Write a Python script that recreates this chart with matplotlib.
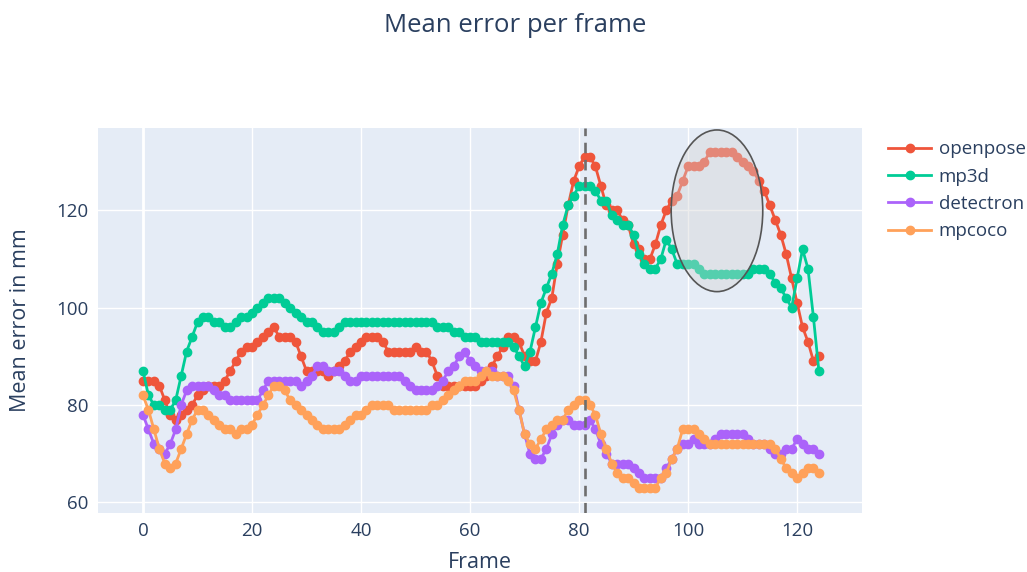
import numpy as np
import matplotlib
matplotlib.use("Agg")
import matplotlib.pyplot as plt
from matplotlib.patches import Ellipse
from matplotlib.lines import Line2D

# ---- data ----
frames = np.arange(125)
openpose = [85, 85, 85, 84, 81, 78, 77, 78, 79, 80,
            82, 83, 84, 84, 84, 85, 87, 89, 91, 92,
            92, 93, 94, 95, 96, 94, 94, 94, 93, 90,
            87, 87, 87, 87, 86, 87, 88, 89, 91, 92,
            93, 94, 94, 94, 93, 91, 91, 91, 91, 91,
            92, 91, 91, 89, 86, 84, 84, 84, 84, 84,
            84, 84, 85, 86, 88, 90, 92, 94, 94, 93,
            90, 89, 89, 93, 99, 102, 109, 115, 121, 126,
            129, 131, 131, 129, 125, 121, 120, 120, 118, 117,
            113, 112, 110, 110, 113, 117, 120, 122, 123, 126,
            129, 129, 129, 130, 132, 132, 132, 132, 132, 131,
            130, 129, 128, 126, 124, 121, 118, 115, 111, 106,
            101, 96, 93, 89, 90]
mp3d = [87, 82, 80, 80, 79, 79, 81, 86, 91, 94,
        97, 98, 98, 97, 97, 96, 96, 97, 98, 98,
        99, 100, 101, 102, 102, 102, 101, 100, 99, 98,
        97, 97, 96, 95, 95, 95, 96, 97, 97, 97,
        97, 97, 97, 97, 97, 97, 97, 97, 97, 97,
        97, 97, 97, 97, 96, 96, 96, 95, 95, 94,
        94, 94, 93, 93, 93, 93, 93, 93, 92, 90,
        88, 91, 96, 101, 104, 107, 111, 117, 121, 123,
        125, 125, 125, 124, 122, 122, 119, 118, 117, 117,
        115, 111, 109, 108, 108, 110, 114, 112, 109, 109,
        109, 109, 108, 107, 107, 107, 107, 107, 107, 107,
        107, 107, 108, 108, 108, 107, 105, 104, 102, 100,
        106, 112, 108, 98, 87]
detectron = [78, 75, 72, 71, 70, 72, 75, 80, 83, 84,
             84, 84, 84, 83, 82, 82, 81, 81, 81, 81,
             81, 81, 83, 85, 85, 85, 85, 85, 85, 84,
             85, 86, 88, 88, 87, 87, 87, 86, 85, 85,
             86, 86, 86, 86, 86, 86, 86, 86, 85, 84,
             83, 83, 83, 83, 84, 85, 87, 88, 90, 91,
             89, 88, 87, 87, 87, 86, 86, 86, 84, 79,
             74, 70, 69, 69, 71, 74, 76, 77, 77, 76,
             76, 76, 77, 75, 72, 70, 68, 68, 68, 68,
             67, 66, 65, 65, 65, 65, 67, 69, 71, 72,
             72, 73, 72, 72, 72, 73, 74, 74, 74, 74,
             74, 73, 72, 72, 72, 71, 70, 70, 71, 71,
             73, 72, 71, 71, 70]
mpcoco = [82, 79, 75, 71, 68, 67, 68, 71, 74, 77,
          79, 79, 78, 77, 76, 75, 75, 74, 75, 75,
          76, 78, 80, 82, 84, 84, 83, 81, 80, 79,
          78, 77, 76, 75, 75, 75, 75, 76, 77, 78,
          78, 79, 80, 80, 80, 80, 79, 79, 79, 79,
          79, 79, 79, 80, 80, 81, 82, 83, 84, 85,
          85, 85, 86, 87, 86, 86, 86, 85, 83, 79,
          74, 72, 71, 73, 75, 76, 77, 77, 79, 80,
          81, 81, 80, 78, 74, 71, 68, 66, 65, 65,
          64, 63, 63, 63, 63, 65, 66, 69, 71, 75,
          75, 75, 74, 73, 72, 72, 72, 72, 72, 72,
          72, 72, 72, 72, 72, 72, 71, 69, 67, 66,
          65, 66, 67, 67, 66]
names = ["openpose", "mp3d", "detectron", "mpcoco"]
colors = ["#EF553B", "#00CC96", "#AB63FA", "#FFA15A"]

marked_frame = 81                       # dashed vertical line
ell_x = (96.9, 113.7)                   # highlighted region (ellipse bounds)
ell_y = (103.3, 136.5)

TXT = "#2a3f5f"
plt.rcParams["font.family"] = ["Open Sans", "DejaVu Sans"]

fig = plt.figure(figsize=(10.27, 5.72), dpi=100)
ax = fig.add_axes([0.0954, 0.1037, 0.7439, 0.6725])
ax.set_facecolor("#E5ECF6")
for s in ax.spines.values():
    s.set_visible(False)

handles = []
for name, col, ys in zip(names, colors, [openpose, mp3d, detectron, mpcoco]):
    ax.plot(frames, ys, "-o", color=col, lw=2.0, ms=6.0, zorder=3)
    handles.append(Line2D([], [], color=col, lw=2.0, marker="o", ms=6.0, label=name))

ax.axvline(marked_frame, color="#6e6e6e", ls=(0, (4, 2.5)), lw=1.9, zorder=4)
ax.add_patch(Ellipse(((ell_x[0] + ell_x[1]) / 2, (ell_y[0] + ell_y[1]) / 2),
                     ell_x[1] - ell_x[0], ell_y[1] - ell_y[0],
                     facecolor=(0.83, 0.83, 0.83, 0.4), edgecolor="#555555", lw=1.2, zorder=5))

ax.set_xlim(-8.26, 131.9)
ax.set_ylim(57.9, 136.9)
ax.set_xticks([0, 20, 40, 60, 80, 100, 120])
ax.set_yticks([60, 80, 100, 120])
ax.grid(color="white", lw=1.0, zorder=0)
ax.set_axisbelow(True)
ax.axvline(0, color="white", lw=2.0, zorder=1)
ax.tick_params(length=0, labelsize=13.5, labelcolor=TXT, pad=7)

fig.text(0.502, 0.955, "Mean error per frame", ha="center", va="center", fontsize=18.5, color=TXT)
fig.text(0.4674, 0.016, "Frame", ha="center", va="center", fontsize=15.5, color=TXT)
fig.text(0.0195, 0.44, "Mean error in mm", ha="center", va="center", rotation=90, fontsize=15.5, color=TXT)

fig.legend(handles=handles, loc="upper left", bbox_to_anchor=(0.8646, 0.755), frameon=False,
           fontsize=13.5, labelcolor=TXT, handlelength=2.3, handletextpad=0.4,
           labelspacing=0.5, borderpad=0, borderaxespad=0)

fig.savefig("out.png", dpi=100)
